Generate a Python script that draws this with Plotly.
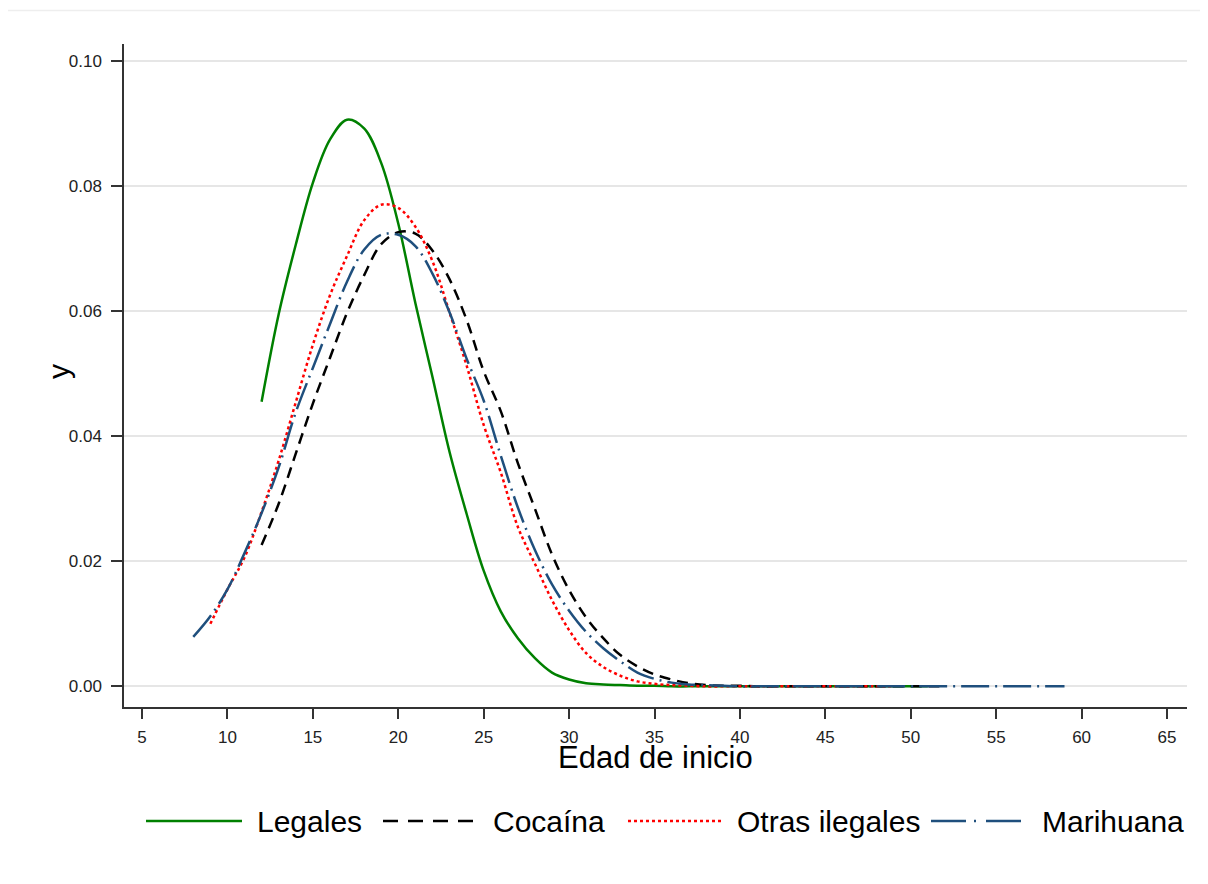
import plotly.graph_objects as go

# ---------------- data ----------------
legales_x = list(range(12, 52))
legales_y = [0.0455, 0.0595, 0.0706, 0.0805, 0.0874, 0.0906, 0.0892, 0.0837, 0.0740, 0.0613,
             0.0495, 0.0375, 0.0276, 0.0185, 0.0120, 0.0077, 0.0045, 0.0022, 0.0011, 0.0005,
             0.0003, 0.0002, 0.0001, 0.0001, 0.0, 0.0, 0.0, 0.0, 0.0, 0.0,
             0.0, 0.0, 0.0, 0.0, 0.0, 0.0, 0.0, 0.0, 0.0, 0.0]

cocaina_x = list(range(12, 53))
cocaina_y = [0.0226, 0.0292, 0.0372, 0.0452, 0.0525, 0.0597, 0.0657, 0.0707, 0.0726, 0.0724,
             0.0697, 0.0651, 0.0586, 0.0504, 0.0440, 0.0357, 0.0284, 0.0211, 0.0154, 0.0110,
             0.0077, 0.0050, 0.0032, 0.0019, 0.0011, 0.0005, 0.0002, 0.0001, 0.0001, 0.0,
             0.0, 0.0, 0.0, 0.0, 0.0, 0.0, 0.0, 0.0, 0.0, 0.0, 0.0]

otras_x = list(range(9, 50))
otras_y = [0.0100, 0.0155, 0.0206, 0.0279, 0.0361, 0.0454, 0.0546, 0.0625, 0.0688, 0.0745,
           0.0770, 0.0765, 0.0735, 0.0680, 0.0598, 0.0513, 0.0418, 0.0342, 0.0255, 0.0196,
           0.0138, 0.0090, 0.0053, 0.0031, 0.0017, 0.0008, 0.0004, 0.0002, 0.0001, 0.0,
           0.0, 0.0, 0.0, 0.0, 0.0, 0.0, 0.0, 0.0, 0.0, 0.0, 0.0]

marihuana_x = list(range(8, 60))
marihuana_y = [0.0079, 0.0112, 0.0155, 0.0213, 0.0277, 0.0350, 0.0438, 0.0509, 0.0579, 0.0647,
               0.0698, 0.0722, 0.0722, 0.0704, 0.0660, 0.0598, 0.0524, 0.0457, 0.0369, 0.0286,
               0.0218, 0.0163, 0.0121, 0.0087, 0.0061, 0.0040, 0.0022, 0.0012, 0.0006, 0.0003,
               0.0002, 0.0001, 0.0, 0.0, 0.0, 0.0, 0.0, 0.0, 0.0, 0.0,
               0.0, 0.0, 0.0, 0.0, 0.0, 0.0, 0.0, 0.0, 0.0, 0.0, 0.0, 0.0]

series_names = ["Legales", "Cocaína", "Otras ilegales", "Marihuana"]
x_tick_vals = [5, 10, 15, 20, 25, 30, 35, 40, 45, 50, 55, 60, 65]
y_tick_vals = [0.0, 0.02, 0.04, 0.06, 0.08, 0.10]
x_title = "Edad de inicio"
y_title = "y"

# ---------------- styles ----------------
FONT = "Liberation Sans, Arial, sans-serif"
styles = [
    dict(color="#008000", width=2.5, dash="solid"),
    dict(color="#000000", width=2.5, dash="11px,7px"),
    dict(color="#ff0000", width=2.5, dash="3px,3px"),
    dict(color="#1f4f7d", width=2.5, dash="28px,6px,2px,6px"),
]
legend_styles = [
    dict(color="#008000", width=2.5, dash="solid"),
    dict(color="#000000", width=2.5, dash="15px,10px"),
    dict(color="#ff0000", width=2.5, dash="3px,3px"),
    dict(color="#1f4f7d", width=2.5, dash="35px,8px,2px,10px"),
]
xs = [legales_x, cocaina_x, otras_x, marihuana_x]
ys = [legales_y, cocaina_y, otras_y, marihuana_y]

fig = go.Figure()
for name, x, y, st in zip(series_names, xs, ys, styles):
    fig.add_trace(go.Scatter(x=x, y=y, mode="lines", name=name, showlegend=False,
                             line=dict(color=st["color"], width=st["width"], dash=st["dash"],
                                       shape="spline", smoothing=1.0)))

# ---------------- layout geometry ----------------
# the page has an 8px body margin, so screen px = figure px + 8
OFF = 8
W, H = 1192, 868
L, T = 124 - OFF, 44 - OFF
R = W - (1187 - OFF)
B = H - (707 - OFF)
PW, PH = W - L - R, H - T - B


def px_x(sx):
    return (sx - OFF - L) / PW


def px_y(sy):
    return (H - B - (sy - OFF)) / PH


shapes = []
annotations = []
# manual legend (long line samples as in the reference)
leg_y = 821
leg_items = [(146, 242, 255), (383, 479, 491), (628, 724, 735), (931, 1027, 1040)]
for (x0, x1, tx), name, st in zip(leg_items, series_names, legend_styles):
    shapes.append(dict(type="line", xref="paper", yref="paper",
                       x0=px_x(x0), x1=px_x(x1), y0=px_y(leg_y), y1=px_y(leg_y),
                       line=dict(color=st["color"], width=st["width"], dash=st["dash"])))
    annotations.append(dict(text=name, xref="paper", yref="paper", x=px_x(tx), y=px_y(leg_y),
                            xanchor="left", yanchor="middle", showarrow=False,
                            font=dict(family=FONT, size=30, color="#000000")))
# axis titles
annotations.append(dict(text=x_title, xref="paper", yref="paper", x=0.5, y=px_y(757),
                        xanchor="center", yanchor="middle", showarrow=False,
                        font=dict(family=FONT, size=31, color="#000000")))
annotations.append(dict(text=y_title, xref="paper", yref="paper", x=px_x(58), y=px_y(372),
                        xanchor="center", yanchor="middle", showarrow=False, textangle=-90,
                        font=dict(family=FONT, size=30, color="#000000")))
# faint frame line at the top of the graph region
shapes.append(dict(type="line", xref="paper", yref="paper",
                   x0=px_x(8), x1=px_x(1200), y0=px_y(10.5), y1=px_y(10.5),
                   line=dict(color="#eeeeee", width=1.5)))

fig.update_layout(
    width=W, height=H,
    margin=dict(l=L, r=R, t=T, b=B, pad=0),
    paper_bgcolor="white", plot_bgcolor="white",
    font=dict(family=FONT, color="#000000"),
    shapes=shapes, annotations=annotations,
    showlegend=False,
)
fig.update_xaxes(
    range=[3.946, 66.171], tickvals=x_tick_vals,
    showline=True, linecolor="#333333", linewidth=1.5,
    ticks="outside", ticklen=10, tickwidth=1.5, tickcolor="#333333",
    tickfont=dict(family=FONT, size=17, color="#222222"),
    ticklabelstandoff=4,
    showgrid=False, zeroline=False,
)
fig.update_yaxes(
    range=[-0.0033, 0.1027], tickvals=y_tick_vals, tickformat=".2f",
    showline=True, linecolor="#333333", linewidth=1.5,
    ticks="outside", ticklen=11, tickwidth=1.5, tickcolor="#333333",
    tickfont=dict(family=FONT, size=17, color="#222222"),
    ticklabelstandoff=6,
    showgrid=True, gridcolor="#e6e6e6", gridwidth=2, zeroline=False,
)

fig.write_html("out.html")
